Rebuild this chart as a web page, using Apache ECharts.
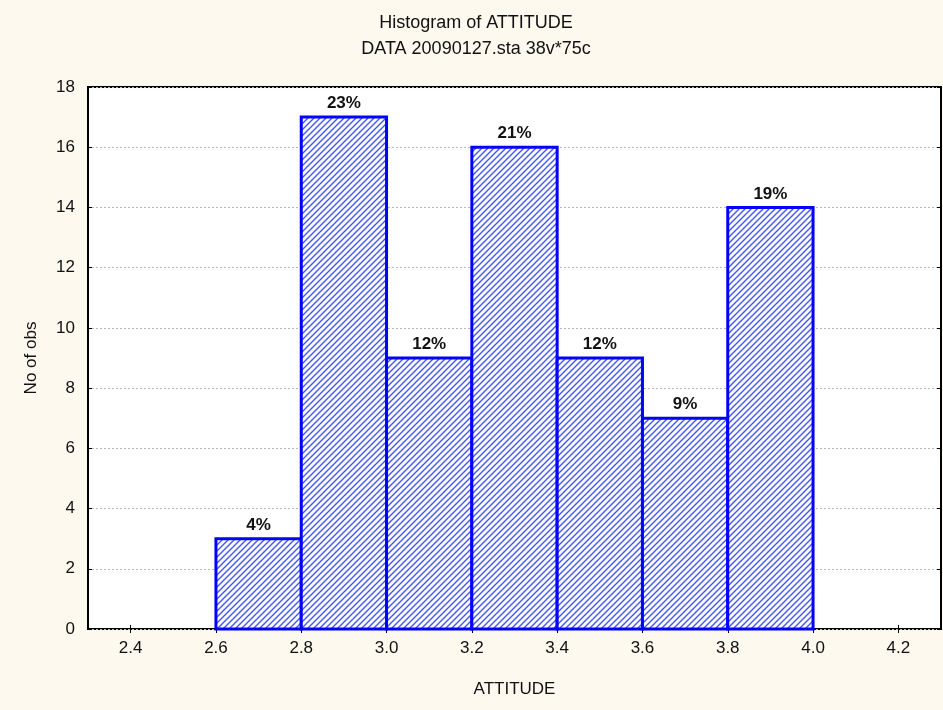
<!DOCTYPE html>
<html>
<head>
<meta charset="utf-8">
<script src="https://cdn.jsdelivr.net/npm/echarts@6/dist/echarts.min.js"></script>
<style>
  html, body { margin: 0; padding: 0; background: #fdf9ef; }
  #main { width: 943px; height: 710px; }
</style>
</head>
<body>
<div id="main"></div>
<script>
// bin edges and counts
var binStart = [2.6, 2.8, 3.0, 3.2, 3.4, 3.6, 3.8];
var binEnd   = [2.8, 3.0, 3.2, 3.4, 3.6, 3.8, 4.0];
var counts   = [3, 17, 9, 16, 9, 7, 14];
var xTicks   = [2.4, 2.6, 2.8, 3.0, 3.2, 3.4, 3.6, 3.8, 4.0, 4.2];

var total = counts.reduce(function (a, b) { return a + b; }, 0);

// diagonal hatch
var hatch = document.createElement('canvas');
hatch.width = 6; hatch.height = 6;
var ctx = hatch.getContext('2d');
ctx.fillStyle = '#ffffff';
ctx.fillRect(0, 0, 6, 6);
ctx.strokeStyle = 'rgba(20, 40, 255, 0.8)';
ctx.lineWidth = 1.4;
ctx.beginPath();
ctx.moveTo(-1, 7); ctx.lineTo(7, -1);
ctx.moveTo(-4, 4); ctx.lineTo(4, -4);
ctx.moveTo(2, 10); ctx.lineTo(10, 2);
ctx.stroke();

var data = [];
for (var i = 0; i < counts.length; i++) {
    data.push([binStart[i], binEnd[i], counts[i], Math.round(counts[i] / total * 100) + '%']);
}

var chartDom = document.getElementById('main');
var myChart = echarts.init(chartDom);

var font = '"Liberation Sans", Arial, sans-serif';

var option = {
    backgroundColor: '#fdf9ef',
    textStyle: { fontFamily: font },
    title: [
        { text: 'Histogram of ATTITUDE', left: 471, top: 9, textAlign: 'center',
          textStyle: { fontSize: 18, fontWeight: 'normal', color: '#111', fontFamily: font } },
        { text: 'DATA 20090127.sta 38v*75c', left: 471, top: 35, textAlign: 'center',
          textStyle: { fontSize: 18, fontWeight: 'normal', color: '#111', fontFamily: font } }
    ],
    grid: {
        left: 88, right: 2, top: 87, bottom: 81,
        show: true, backgroundColor: '#ffffff', borderColor: '#000', borderWidth: 2
    },
    xAxis: [{
        type: 'value', min: 2.3, max: 4.3,
        name: 'ATTITUDE', nameLocation: 'middle', nameGap: 52,
        nameTextStyle: { fontSize: 17, color: '#111', fontFamily: font },
        axisLine: { show: false },
        axisTick: { show: true, inside: true, length: 4, lineStyle: { color: '#000' },
                    customValues: xTicks },
        axisLabel: { fontSize: 17, color: '#111', margin: 11, fontFamily: font,
                     customValues: xTicks,
                     formatter: function (v) { return v.toFixed(1); } },
        splitLine: { show: false }
    }, {
        type: 'value', min: 2.3, max: 4.3, position: 'top',
        axisLine: { show: false },
        axisTick: { show: true, inside: true, length: 4, lineStyle: { color: '#000' },
                    customValues: xTicks },
        axisLabel: { show: false },
        splitLine: { show: false }
    }],
    yAxis: [{
        type: 'value', min: 0, max: 18, interval: 2,
        name: 'No of obs', nameLocation: 'middle', nameGap: 48,
        nameTextStyle: { fontSize: 17, color: '#111', fontFamily: font },
        axisLine: { show: false },
        axisTick: { show: true, inside: true, length: 4, lineStyle: { color: '#000' } },
        axisLabel: { fontSize: 17, color: '#111', margin: 13, fontFamily: font },
        splitLine: { show: true, lineStyle: { color: '#b8b8b8', type: [2, 2], width: 1 } }
    }, {
        type: 'value', min: 0, max: 18, interval: 2, position: 'right',
        axisLine: { show: false },
        axisTick: { show: true, inside: true, length: 4, lineStyle: { color: '#000' } },
        axisLabel: { show: false },
        splitLine: { show: false }
    }],
    series: [{
        type: 'custom',
        xAxisIndex: 0, yAxisIndex: 0,
        data: data,
        encode: { x: [0, 1], y: 2 },
        renderItem: function (params, api) {
            var p0 = api.coord([api.value(0), api.value(2)]);
            var p1 = api.coord([api.value(1), 0]);
            return {
                type: 'group',
                children: [{
                    type: 'rect',
                    shape: { x: p0[0], y: p0[1], width: p1[0] - p0[0], height: p1[1] - p0[1] },
                    style: {
                        fill: { image: hatch, repeat: 'repeat' },
                        stroke: '#0000ff', lineWidth: 3
                    }
                }, {
                    type: 'text',
                    style: {
                        text: data[params.dataIndex][3],
                        x: (p0[0] + p1[0]) / 2, y: p0[1] - 5,
                        align: 'center', verticalAlign: 'bottom',
                        font: 'bold 17px ' + font, fill: '#111'
                    }
                }]
            };
        }
    }]
};

option && myChart.setOption(option);
</script>
</body>
</html>
